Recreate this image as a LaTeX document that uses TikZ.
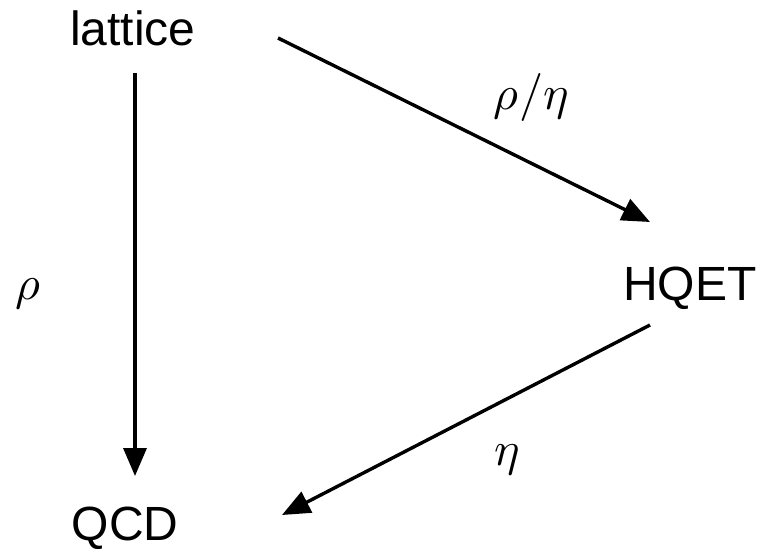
\documentclass[tikz,border=0pt]{standalone}
\usepackage{fontspec}
\usepackage{unicode-math}
\setmainfont{Liberation Sans}
\setmathfont{Latin Modern Math}
\usetikzlibrary{arrows.meta,positioning}

\begin{document}
\begin{tikzpicture}[x=1pt,y=-1pt,
    lbl/.style={font=\fontsize{48}{56}\selectfont,anchor=base,inner sep=0pt},
    mlbl/.style={font=\fontsize{48}{56}\selectfont,inner sep=0pt},
    arr/.style={line width=3.4pt,-{Triangle[length=28pt,width=23pt]}}]
    \useasboundingbox (0,0) rectangle (761,549);
    % the three theories
    \node[lbl] (lattice) at (133,45) {lattice};
    \node[lbl] (HQET) at (690,300) {HQET};
    \node[lbl] (QCD) at (125,540) {QCD};
    % arrow ends
    \coordinate (latS) at (135,73);
    \coordinate (qcdN) at (135,476);
    \coordinate (latE) at (278,38);
    \coordinate (hqetN) at (650,222);
    \coordinate (hqetS) at (650,325);
    \coordinate (qcdE) at (282,515);
    \draw[arr] (latS) -- (qcdN);
    \draw[arr] (latE) -- (hqetN);
    \draw[arr] (hqetS) -- (qcdE);
    % labels
    \node[mlbl] (rho) at (28,294) {$\rho$};
    \node[mlbl] (rhoeta) at (531,97) {$\rho/\eta$};
    \node[mlbl] (eta) at (507,460) {$\eta$};
\end{tikzpicture}
\end{document}
